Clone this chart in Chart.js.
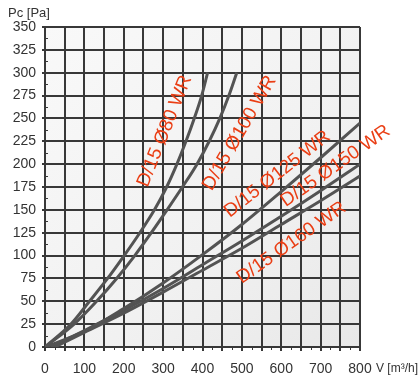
<!DOCTYPE html>
<html>
<head>
<meta charset="utf-8">
<script src="https://cdn.jsdelivr.net/npm/chart.js@4"></script>
<style>
  html, body { margin: 0; padding: 0; background: #fff; }
  #wrap { width: 420px; height: 385px; position: relative; }
</style>
</head>
<body>
<div id="wrap"><canvas id="pressureChart"></canvas></div>
<script>
// series data: flow V [m3/h] and pressure Pc [Pa]
const v80 = [0, 66, 113, 159, 201, 241, 278, 309, 335, 358, 379, 398, 413];
const p80 = [0, 25, 50, 75, 100, 125, 150, 175, 200, 225, 250, 275, 300];

const v100 = [0, 74, 131, 182, 228, 270, 310, 349, 386, 417, 444, 467, 487];
const p100 = [0, 25, 50, 75, 100, 125, 150, 175, 200, 225, 250, 275, 300];

const v125 = [0, 100, 200, 300, 400, 500, 600, 700, 800];
const p125 = [0, 17, 42, 70, 101, 134, 170, 207, 245];

const v150 = [15, 100, 200, 300, 400, 500, 600, 700, 800];
const p150 = [0, 18, 40, 64, 90, 116, 143, 171, 200];

const v160 = [25, 100, 200, 300, 400, 500, 600, 700, 800];
const p160 = [0, 16, 37, 60, 84, 108, 134, 160, 187];

const seriesNames = ['D/15 Ø80 WR', 'D/15 Ø100 WR', 'D/15 Ø125 WR', 'D/15 Ø150 WR', 'D/15 Ø160 WR'];

const xTicks = [0, 100, 200, 300, 400, 500, 600, 700, 800];
const yTicks = [0, 25, 50, 75, 100, 125, 150, 175, 200, 225, 250, 275, 300, 325, 350];

// where each curve name sits (data coords) and its slant
const labelSpots = [
    { x: 304, y: 236, angle: -68 },
    { x: 494, y: 234, angle: -60 },
    { x: 590, y: 189, angle: -38 },
    { x: 738, y: 198, angle: -35 },
    { x: 626, y: 114, angle: -35 }
];

function toPoints(xs, ys) {
    return xs.map((x, i) => ({ x: x, y: ys[i] }));
}

const lineColor = '#535353';
const gridColor = '#383838';
const labelColor = '#ea3e14';
const fontFamily = '"Liberation Sans", Arial, sans-serif';

const allSeries = [[v80, p80], [v100, p100], [v125, p125], [v150, p150], [v160, p160]];

const datasets = allSeries.map((s, i) => ({
    label: seriesNames[i],
    data: toPoints(s[0], s[1]),
    showLine: true,
    borderColor: lineColor,
    borderWidth: 3,
    pointRadius: 0,
    cubicInterpolationMode: 'monotone',
    fill: false
}));

// light gray panel behind the grid
const panelBackground = {
    id: 'panelBackground',
    beforeDraw(chart) {
        const { ctx, chartArea: a } = chart;
        const g = ctx.createLinearGradient(a.left, a.top, a.right, a.bottom);
        g.addColorStop(0, '#f9f9f9');
        g.addColorStop(0.6, '#f1f1f1');
        g.addColorStop(1, '#e8e8e8');
        ctx.save();
        ctx.fillStyle = g;
        ctx.fillRect(a.left, a.top, a.right - a.left, a.bottom - a.top);
        ctx.restore();
    }
};

// small in-between ticks on both axes, axis titles, curve names
const extras = {
    id: 'extras',
    afterDraw(chart) {
        const { ctx, chartArea: a } = chart;
        const xs = chart.scales.x;
        const ys = chart.scales.y;
        ctx.save();
        ctx.strokeStyle = gridColor;
        ctx.lineWidth = 1;
        for (let v = 25; v < 800; v += 50) {
            const px = Math.round(xs.getPixelForValue(v)) + 0.5;
            ctx.beginPath();
            ctx.moveTo(px, a.bottom);
            ctx.lineTo(px, a.bottom + 3);
            ctx.stroke();
        }
        for (let v = 12.5; v < 350; v += 25) {
            const py = Math.round(ys.getPixelForValue(v)) + 0.5;
            ctx.beginPath();
            ctx.moveTo(a.left, py);
            ctx.lineTo(a.left + 3, py);
            ctx.stroke();
        }

        ctx.fillStyle = '#333';
        ctx.font = '13px ' + fontFamily;
        ctx.textBaseline = 'middle';
        ctx.textAlign = 'left';
        ctx.fillText('Pc [Pa]', 8, 13);
        ctx.font = '12px ' + fontFamily;
        ctx.fillText('V [m³/h]', xs.getPixelForValue(800) + 16, a.bottom + 22);

        ctx.fillStyle = labelColor;
        ctx.font = '19px ' + fontFamily;
        ctx.textAlign = 'center';
        labelSpots.forEach((s, i) => {
            ctx.save();
            ctx.translate(xs.getPixelForValue(s.x), ys.getPixelForValue(s.y));
            ctx.rotate(s.angle * Math.PI / 180);
            ctx.fillText(seriesNames[i], 0, 0);
            ctx.restore();
        });
        ctx.restore();
    }
};

const ctx = document.getElementById('pressureChart').getContext('2d');

const pressureChart = new Chart(ctx, {
    type: 'scatter',
    data: { datasets: datasets },
    options: {
        responsive: true,
        maintainAspectRatio: false,
        animation: false,
        layout: {
            padding: { top: 27, right: 60, left: 0, bottom: 0 }
        },
        plugins: {
            legend: { display: false },
            tooltip: { enabled: false }
        },
        scales: {
            x: {
                type: 'linear',
                min: 0,
                max: 800,
                afterBuildTicks(scale) {
                    const t = [];
                    for (let v = 0; v <= 800; v += 50) t.push({ value: v });
                    scale.ticks = t;
                },
                afterFit(scale) { scale.height = 38; },
                ticks: {
                    color: '#333',
                    font: { family: fontFamily, size: 14 },
                    maxRotation: 0,
                    autoSkip: false,
                    padding: 10,
                    callback: (v) => xTicks.includes(v) ? String(v) : ''
                },
                grid: { color: gridColor, lineWidth: 2, tickLength: 4 },
                border: { color: gridColor, width: 2 }
            },
            y: {
                type: 'linear',
                min: 0,
                max: 350,
                afterBuildTicks(scale) {
                    scale.ticks = yTicks.map(v => ({ value: v }));
                },
                afterFit(scale) { scale.width = 45; },
                ticks: {
                    color: '#333',
                    font: { family: fontFamily, size: 14 },
                    padding: 6,
                    autoSkip: false
                },
                grid: { color: gridColor, lineWidth: 2, tickLength: 3 },
                border: { color: gridColor, width: 2 }
            }
        }
    },
    plugins: [panelBackground, extras]
});
</script>
</body>
</html>
